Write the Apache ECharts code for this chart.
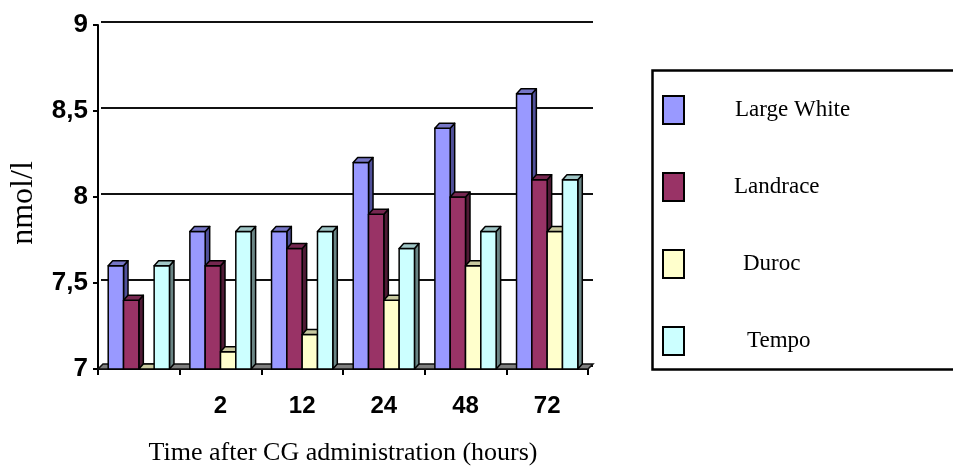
<!DOCTYPE html>
<html>
<head>
<meta charset="utf-8">
<script src="https://cdn.jsdelivr.net/npm/echarts@6/dist/echarts.min.js"></script>
<style>
  html, body { margin: 0; padding: 0; background: #fff; }
  #chart { width: 953px; height: 476px; }
</style>
</head>
<body>
<div id="chart"></div>
<script>
// Time points (hours after CG administration); the first group is the baseline
var categories = ['', '2', '12', '24', '48', '72'];

// Concentrations in nmol/l per breed
var largeWhite = [7.6, 7.8, 7.8, 8.2, 8.4, 8.6];
var landrace   = [7.4, 7.6, 7.7, 7.9, 8.0, 8.1];
var duroc      = [7.0, 7.1, 7.2, 7.4, 7.6, 7.8];
var tempo      = [7.6, 7.8, 7.8, 7.7, 7.8, 8.1];

var breedNames = ['Large White', 'Landrace', 'Duroc', 'Tempo'];
var breedValues = [largeWhite, landrace, duroc, tempo];

// front / top / side face shades for each breed
var faces = [
  { front: '#9999FF', top: '#7676C6', side: '#50509A' },
  { front: '#993366', top: '#762750', side: '#4F1A35' },
  { front: '#FFFFCC', top: '#C9C9A0', side: '#8A8A6E' },
  { front: '#CCFFFF', top: '#A0C6C6', side: '#6A8585' }
];

var Y_MIN = 7, Y_MAX = 9;
var DEPTH_X = 4.5, DEPTH_Y = -5;     // bar extrusion
var WALL_X = 4, WALL_Y = -3;         // back wall offset

var SERIF = 'Liberation Serif, Times New Roman, serif';
var SANS = 'Liberation Sans, Arial, sans-serif';

function columnRenderer(k) {
  var f = faces[k];
  return function (params, api) {
    var idx = api.value(0);
    var val = api.value(1);
    var band = api.size([1, 0])[0];
    var bw = band * 0.1875;
    var topPt = api.coord([idx, val]);
    var basePt = api.coord([idx, Y_MIN]);
    var x0 = topPt[0] - 2 * bw + k * bw;
    var x1 = x0 + bw;
    var yT = topPt[1];
    var yB = basePt[1];
    var stroke = { stroke: '#000', lineWidth: 1.5, lineJoin: 'round' };
    return {
      type: 'group',
      children: [
        {
          type: 'polygon',
          shape: { points: [[x1, yB], [x1 + DEPTH_X, yB + DEPTH_Y], [x1 + DEPTH_X, yT + DEPTH_Y], [x1, yT]] },
          style: Object.assign({ fill: f.side }, stroke)
        },
        {
          type: 'rect',
          shape: { x: x0, y: yT, width: bw, height: yB - yT },
          style: Object.assign({ fill: f.front }, stroke)
        },
        {
          type: 'polygon',
          shape: { points: [[x0, yT], [x1, yT], [x1 + DEPTH_X, yT + DEPTH_Y], [x0 + DEPTH_X, yT + DEPTH_Y]] },
          style: Object.assign({ fill: f.top }, stroke)
        }
      ]
    };
  };
}

// grey floor strip along the category axis
function floorRenderer(params, api) {
  var cs = params.coordSys;
  var yB = cs.y + cs.height;
  var xL = cs.x, xR = cs.x + cs.width;
  return {
    type: 'polygon',
    shape: { points: [[xL, yB], [xR, yB], [xR + WALL_X + 1, yB + DEPTH_Y], [xL + WALL_X + 1, yB + DEPTH_Y]] },
    style: { fill: '#7F7F7F', stroke: '#111', lineWidth: 1.5 }
  };
}

var series = [
  {
    type: 'custom',
    name: 'floor',
    xAxisIndex: 0, yAxisIndex: 0,
    renderItem: floorRenderer,
    data: [[0, Y_MIN]],
    silent: true,
    z: 1
  }
];
breedNames.forEach(function (name, k) {
  series.push({
    type: 'custom',
    name: name,
    xAxisIndex: 0, yAxisIndex: 0,
    itemStyle: { color: faces[k].front },
    renderItem: columnRenderer(k),
    encode: { x: 0, y: 1 },
    data: breedValues[k].map(function (v, i) { return [i, v]; }),
    z: 2
  });
});

var indents = { 'Large White': 46, 'Landrace': 45, 'Duroc': 54, 'Tempo': 58 };
var richIndents = {};
Object.keys(indents).forEach(function (n) {
  var p = indents[n];
  richIndents['p' + p] = { padding: [0, 0, 0, p], fontSize: 23, fontFamily: SERIF, color: '#000' };
});

var chart = echarts.init(document.getElementById('chart'), null, { renderer: 'canvas' });
chart.setOption({
  animation: false,
  backgroundColor: '#fff',
  grid: [
    { left: 97, right: 365, top: 25, bottom: 107, containLabel: false },
    { left: 97 + WALL_X, right: 365 - WALL_X - 1, top: 25 + WALL_Y, bottom: 107 - WALL_Y, containLabel: false }
  ],
  xAxis: [
    {
      type: 'category',
      gridIndex: 0,
      data: categories,
      boundaryGap: true,
      axisLine: { lineStyle: { color: '#000', width: 2 } },
      axisTick: { show: true, length: 6, lineStyle: { color: '#000', width: 2 } },
      axisLabel: {
        margin: 25,
        color: '#000',
        fontFamily: SANS,
        fontWeight: 'bold',
        fontSize: 24
      },
      name: 'Time after CG administration (hours)',
      nameLocation: 'middle',
      nameGap: 71,
      nameTextStyle: {
        color: '#000',
        fontFamily: SERIF,
        fontSize: 26
      },
      splitLine: { show: false }
    },
    {
      type: 'category',
      gridIndex: 1,
      data: categories,
      show: false
    }
  ],
  yAxis: [
    {
      type: 'value',
      gridIndex: 0,
      min: Y_MIN, max: Y_MAX, interval: 0.5,
      axisLine: { show: true, lineStyle: { color: '#000', width: 2 } },
      axisTick: { show: true, length: 5, lineStyle: { color: '#000', width: 2 } },
      axisLabel: {
        margin: 10,
        color: '#000',
        fontFamily: SANS,
        fontWeight: 'bold',
        fontSize: 26,
        formatter: function (v) { return String(v).replace('.', ','); }
      },
      splitLine: { show: false },
      name: 'nmol/l',
      nameLocation: 'middle',
      nameGap: 58,
      nameRotate: 90,
      nameTextStyle: {
        color: '#000',
        fontFamily: SERIF,
        fontSize: 32,
        padding: [0, 12, 0, 0]
      }
    },
    {
      type: 'value',
      gridIndex: 1,
      min: Y_MIN, max: Y_MAX, interval: 0.5,
      axisLine: { show: false },
      axisTick: { show: false },
      axisLabel: { show: false },
      splitLine: { show: true, lineStyle: { color: '#111', width: 2 } }
    }
  ],
  legend: {
    orient: 'vertical',
    left: 662,
    top: 95,
    padding: 0,
    itemWidth: 21,
    itemHeight: 28,
    itemGap: 47,
    icon: 'rect',
    data: breedNames,
    itemStyle: { borderColor: '#000', borderWidth: 2 },
    formatter: function (name) {
      return '{p' + indents[name] + '|' + name + '}';
    },
    textStyle: {
      color: '#000',
      fontFamily: SERIF,
      fontSize: 23,
      rich: richIndents
    }
  },
  graphic: [
    {
      type: 'rect',
      left: 650, top: 68,
      shape: { width: 330, height: 299 },
      style: { fill: 'none', stroke: '#000', lineWidth: 2.5 },
      z: -1,
      silent: true
    }
  ],
  series: series
});
</script>
</body>
</html>
